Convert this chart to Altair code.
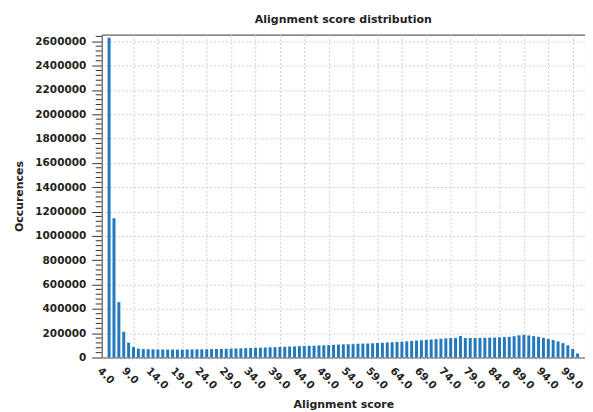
import altair as alt
import pandas as pd

scores = list(range(4, 101))
counts = [
    2630000, 1145000, 455000, 212000, 122000, 86000, 73000, 69000, 68000, 67000,
    66000, 66000, 65000, 65000, 65000, 65000, 66000, 66000, 67000, 67000,
    68000, 69000, 70000, 71000, 72000, 73000, 74000, 75000, 77000, 78000,
    79000, 81000, 82000, 84000, 85000, 87000, 88000, 90000, 91000, 93000,
    94000, 96000, 97000, 99000, 100000, 102000, 104000, 106000, 108000, 109000,
    110000, 112000, 114000, 115000, 117000, 119000, 121000, 123000, 125000, 128000,
    130000, 133000, 136000, 139000, 142000, 145000, 148000, 151000, 154000, 157000,
    160000, 160000, 176000, 160000, 160000, 160000, 161000, 162000, 163000, 164000,
    166000, 168000, 170000, 175000, 182000, 186000, 181000, 176000, 170000, 162000,
    153000, 143000, 132000, 118000, 100000, 70000, 33000,
]
x_ticks = list(range(4, 100, 5))
y_ticks = list(range(0, 2600001, 200000))
minor_ticks = [v for v in range(0, 2640001, 40000) if v % 200000 != 0]

df = pd.DataFrame({"score": scores, "count": counts})
mdf = pd.DataFrame({"count": minor_ticks})

FONT = "DejaVu Sans"

y_axis = alt.Axis(values=y_ticks, format="d", title="Occurences",
                  tickSize=10, tickColor="#333", labelPadding=6,
                  domain=False, grid=True, gridDash=[2, 2], gridColor="#cfcfcf",
                  titleX=-82, titleY=162, titleAngle=270,
                  titleAlign="center", titleBaseline="middle")
y_scale = alt.Scale(domain=[0, 2655000], nice=False)

bars = alt.Chart(df).mark_bar(size=3, color="#2479bd").encode(
    x=alt.X("score:Q",
            scale=alt.Scale(domain=[3.5, 100.5], nice=False, zero=False),
            axis=alt.Axis(values=x_ticks, format=".1f", title="Alignment score",
                          labelAngle=45, labelAlign="left", labelBaseline="top",
                          labelOffset=-7, labelPadding=8, labelOverlap=False,
                          labelBound=False, ticks=False, domain=False,
                          grid=True, gridDash=[2, 2], gridColor="#cfcfcf",
                          titleY=47, titleBaseline="middle")),
    y=alt.Y("count:Q", scale=y_scale, axis=y_axis),
)

minor = alt.Chart(mdf).mark_rule(color="#333", strokeWidth=1).encode(
    y=alt.Y("count:Q", scale=y_scale, axis=y_axis),
    x=alt.value(-6),
    x2=alt.value(0),
)

chart = alt.layer(bars, minor).properties(
    width=485, height=324,
    title=alt.TitleParams("Alignment score distribution", fontSize=11, font=FONT,
                          fontWeight="bold", color="#222", offset=10),
    autosize=alt.AutoSizeParams(type="none"),
    padding={"left": 94, "top": 26, "right": 0, "bottom": 54},
).configure_view(
    stroke="#333", strokeWidth=1
).configure_axis(
    labelFont=FONT, labelFontSize=10.5, labelFontWeight="bold", labelColor="#222",
    titleFont=FONT, titleFontSize=11, titleFontWeight="bold", titleColor="#222",
)

chart.save("out.html", embed_options={"renderer": "svg", "actions": False})
